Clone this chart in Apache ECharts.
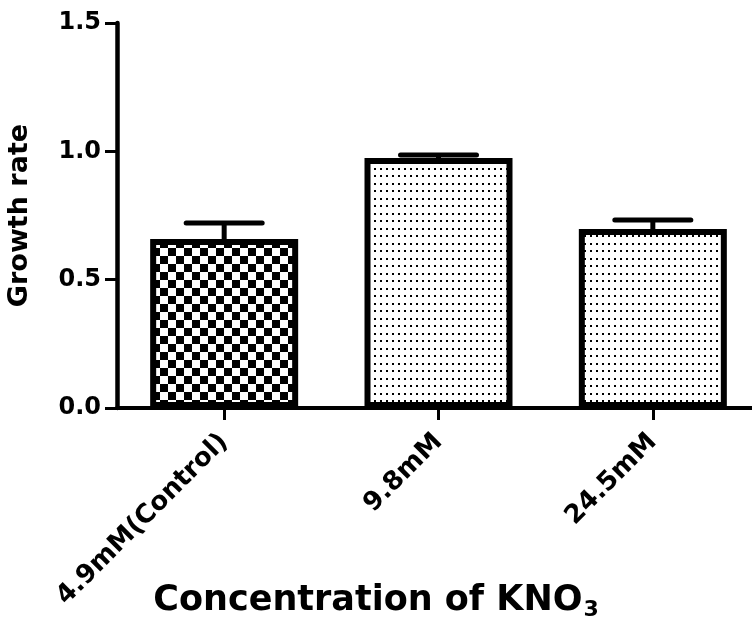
<!DOCTYPE html>
<html>
<head>
<meta charset="utf-8">
<script src="https://cdn.jsdelivr.net/npm/echarts@6/dist/echarts.min.js"></script>
<style>
html,body{margin:0;padding:0;background:#fff;}
#chart{width:752px;height:643px;}
</style>
</head>
<body>
<div id="chart"></div>
<script>
const categories = ['4.9mM(Control)', '9.8mM', '24.5mM'];
const means = [0.658, 0.974, 0.697];
const errors = [0.063, 0.012, 0.035];
const yMin = 0, yMax = 1.5, yStep = 0.5;
const patternKinds = ['checker', 'dots', 'dots'];

function makeChecker() {
  const c = document.createElement('canvas');
  c.width = 16; c.height = 16;
  const g = c.getContext('2d');
  g.fillStyle = '#fff'; g.fillRect(0, 0, 16, 16);
  g.fillStyle = '#000';
  g.fillRect(0, 0, 8, 8); g.fillRect(8, 8, 8, 8);
  return c;
}
function makeDots() {
  const c = document.createElement('canvas');
  c.width = 6; c.height = 15;
  const g = c.getContext('2d');
  g.fillStyle = '#fff'; g.fillRect(0, 0, 6, 15);
  g.fillStyle = '#000';
  g.fillRect(2, 3, 2, 2); g.fillRect(2, 10, 2, 2);
  return c;
}
const patterns = { checker: makeChecker(), dots: makeDots() };

const font = '"DejaVu Sans", "Liberation Sans", Arial, sans-serif';
const chart = echarts.init(document.getElementById('chart'), null, { renderer: 'canvas' });

const barData = means.map((v, i) => ({
  value: v,
  itemStyle: {
    color: { image: patterns[patternKinds[i]], repeat: 'repeat' },
    borderColor: '#000',
    borderWidth: 6
  }
}));

const errData = means.map((v, i) => [i, v, v + errors[i]]);

chart.setOption({
  animation: false,
  backgroundColor: '#fff',
  title: {
    text: '{a|Concentration of KNO}{b|3}',
    left: 'center',
    top: 576,
    textStyle: {
      rich: {
        a: { fontFamily: font, fontWeight: 'bold', fontSize: 35, color: '#000' },
        b: { fontFamily: font, fontWeight: 'bold', fontSize: 22, color: '#000', padding: [18, 0, 0, 1] }
      }
    }
  },
  grid: { left: 117, right: -8, top: 23, bottom: 235, containLabel: false, outerBoundsMode: 'none' },
  xAxis: {
    type: 'category',
    data: categories,
    axisLine: { show: true, lineStyle: { color: '#000', width: 4 } },
    axisTick: { show: true, alignWithLabel: true, length: 12, lineStyle: { color: '#000', width: 3 } },
    axisLabel: {
      interval: 0, rotate: 45, margin: 30,
      fontFamily: font, fontWeight: 'bold', fontSize: 26, color: '#000'
    },
    splitLine: { show: false }
  },
  yAxis: {
    type: 'value',
    min: yMin, max: yMax, interval: yStep,
    name: 'Growth rate',
    nameLocation: 'middle',
    nameGap: 84,
    nameTextStyle: { fontFamily: font, fontWeight: 'bold', fontSize: 27, color: '#000' },
    axisLine: { show: true, lineStyle: { color: '#000', width: 4.5 } },
    axisTick: { show: true, length: 12, lineStyle: { color: '#000', width: 3 } },
    axisLabel: {
      margin: 16,
      formatter: v => v.toFixed(1),
      fontFamily: font, fontWeight: 'bold', fontSize: 24, color: '#000'
    },
    splitLine: { show: false }
  },
  series: [
    {
      type: 'bar',
      data: barData,
      barWidth: 148,
      z: 2
    },
    {
      type: 'custom',
      data: errData,
      z: 3,
      renderItem: function (params, api) {
        const base = api.coord([api.value(0), api.value(1)]);
        const top = api.coord([api.value(0), api.value(2)]);
        const half = 38;
        const style = { stroke: '#000', lineWidth: 5, lineCap: 'round' };
        return {
          type: 'group',
          children: [
            { type: 'line', shape: { x1: base[0], y1: base[1], x2: top[0], y2: top[1] }, style: { stroke: '#000', lineWidth: 5 } },
            { type: 'line', shape: { x1: top[0] - half, y1: top[1], x2: top[0] + half, y2: top[1] }, style: style }
          ]
        };
      }
    }
  ]
});
</script>
</body>
</html>
